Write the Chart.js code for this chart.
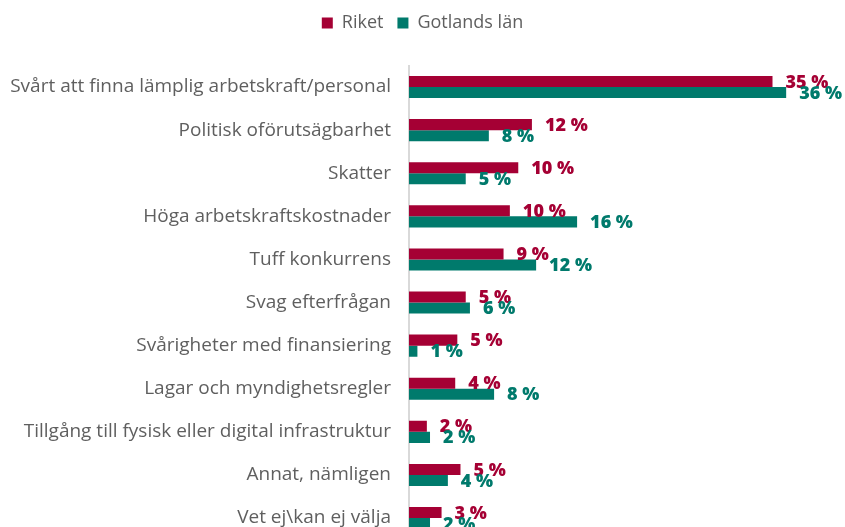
<!DOCTYPE html>
<html>
<head>
<meta charset="utf-8">
<script src="https://cdn.jsdelivr.net/npm/chart.js@4/dist/chart.umd.min.js"></script>
<style>
  html, body { margin: 0; padding: 0; background: #fff; overflow: hidden; }
  #wrap { width: 845px; height: 569px; }
</style>
</head>
<body>
<div id="wrap"><canvas id="chart" width="845" height="569"></canvas></div>
<script>
const categories = [
  'Svårt att finna lämplig arbetskraft/personal',
  'Politisk oförutsägbarhet',
  'Skatter',
  'Höga arbetskraftskostnader',
  'Tuff konkurrens',
  'Svag efterfrågan',
  'Svårigheter med finansiering',
  'Lagar och myndighetsregler',
  'Tillgång till fysisk eller digital infrastruktur',
  'Annat, nämligen',
  'Vet ej\\kan ej välja',
];
const riket = [34.6, 11.7, 10.4, 9.6, 9.0, 5.4, 4.6, 4.4, 1.7, 4.9, 3.1];
const gotland = [35.9, 7.6, 5.4, 16.0, 12.1, 5.8, 0.8, 8.1, 2.0, 3.7, 2.0];

const RED = '#a50034';
const TEAL = '#007a6c';
const GREY = '#5f5f5f';

// extra space under the legend
const legendSpace = {
  id: 'legendSpace',
  beforeInit(chart) {
    const fit = chart.legend.fit;
    chart.legend.fit = function () {
      fit.bind(chart.legend)();
      this.height += 23.5;
    };
  },
};

// value labels to the right of each bar
const valueLabels = {
  id: 'valueLabels',
  afterDatasetsDraw(chart) {
    const { ctx } = chart;
    ctx.save();
    ctx.font = '800 18px "Open Sans"';
    ctx.textAlign = 'left';
    ctx.textBaseline = 'middle';
    chart.data.datasets.forEach((ds, i) => {
      const meta = chart.getDatasetMeta(i);
      ctx.fillStyle = ds.backgroundColor;
      meta.data.forEach((bar, j) => {
        ctx.fillText(Math.round(ds.data[j]) + ' %', bar.x + 13, bar.y + 1);
      });
    });
    ctx.restore();
  },
};

new Chart(document.getElementById('chart'), {
  type: 'bar',
  data: {
    labels: categories,
    datasets: [
      { label: 'Riket', data: riket, backgroundColor: RED },
      { label: 'Gotlands län', data: gotland, backgroundColor: TEAL },
    ],
  },
  options: {
    indexAxis: 'y',
    responsive: false,
    animation: false,
    categoryPercentage: 0.512,
    barPercentage: 1,
    layout: { padding: 0 },
    plugins: {
      legend: {
        position: 'top',
        labels: {
          boxWidth: 11,
          boxHeight: 11,
          padding: 14,
          color: GREY,
          font: { family: 'Open Sans', size: 18 },
        },
      },
      tooltip: { enabled: false },
    },
    scales: {
      x: { display: false, min: 0, max: 41.5 },
      y: {
        grid: { display: false, drawTicks: false },
        border: { display: true, color: '#d9d9d9', width: 2 },
        ticks: {
          padding: 18,
          color: GREY,
          font: { family: 'Open Sans', size: 19 },
        },
        afterFit(scale) { scale.width = 409; },
      },
    },
  },
  plugins: [legendSpace, valueLabels],
});
</script>
</body>
</html>
